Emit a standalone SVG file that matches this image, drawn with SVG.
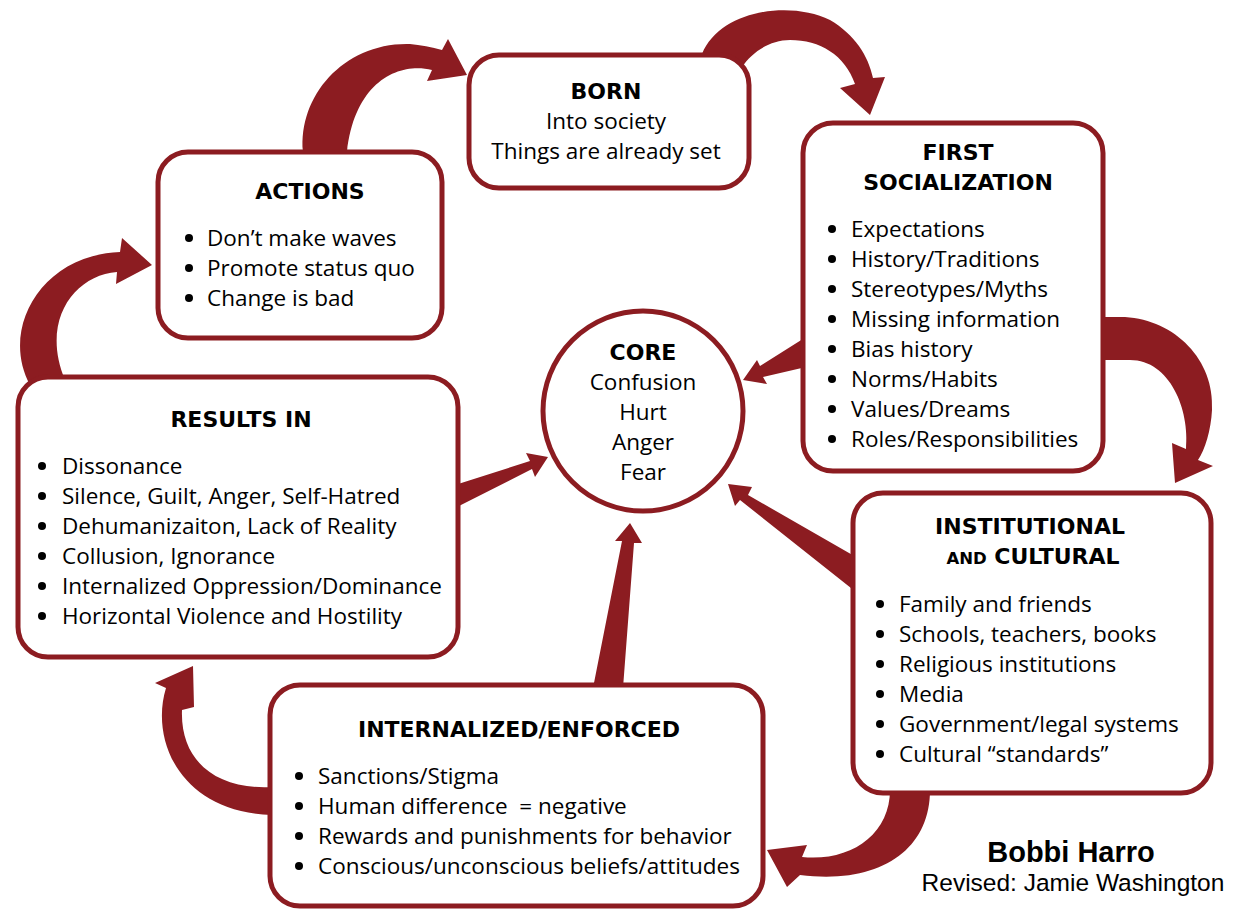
<svg xmlns="http://www.w3.org/2000/svg" width="1234" height="914" viewBox="0 0 1234 914">
<style>
.box{fill:#fff;stroke:#8C1C21;stroke-width:5}
.arr{fill:#8C1C21;stroke:none}
text{font-family:"Open Sans","Noto Sans","Liberation Sans",sans-serif;font-size:22.5px;fill:#000}
.t{font-family:"DejaVu Sans","Open Sans",sans-serif;font-weight:bold;text-anchor:middle;font-size:22px}
.c{text-anchor:middle}
.sm{font-size:16.5px}
.b{fill:#000}
.sig1{font-family:"Liberation Sans",Arial,sans-serif;font-weight:bold;font-size:29px;text-anchor:middle}
.sig2{font-family:"Liberation Sans",Arial,sans-serif;font-size:24.5px;text-anchor:middle}
</style>
<rect width="1234" height="914" fill="#fff"/>
<g id="connectors">
<path class="arr" d="M303,152 C298,95 345,42 410,44 C420,45 432,47 442,50 L448,39 L467,75 L427,81 L432,70 C400,62 355,80 347,152 Z"/>
<path class="arr" d="M702,54 C720,10 790,0 830,20 C855,35 868,55 873,78 L885,77 L870,115 L840,88 L855,84 C845,55 820,40 790,40 C770,40 752,52 742,67 Z"/>
<path class="arr" d="M1100,317 L1125,317 C1175,320 1215,360 1212,410 C1211,430 1205,450 1198,460 L1213,466 L1175,483 L1172,443 L1186,449 C1190,410 1170,360 1130,360 L1100,360 Z"/>
<path class="arr" d="M930,790 C930,850 880,885 800,875 L787,887 L767,850 L807,845 L802,857 C850,862 890,835 890,790 Z"/>
<path class="arr" d="M272,787 C215,790 180,760 182,710 L194,707 L193,666 L155,683 L166,688 C150,740 180,812 272,815 Z"/>
<path class="arr" d="M30,385 C0,330 40,255 120,252 L122,238 L152,265 L116,284 L117,272 C75,275 40,320 65,380 Z"/>
<path class="arr" d="M455,485 L530,461 L526,453 L548,457 L535,477 L532,469 L455,508 Z"/>
<path class="arr" d="M806,337 L760,366 L757,360 L743,380 L767,384 L763,377 L806,367 Z"/>
<path class="arr" d="M856,557 L748,495 L752,487 L728,484 L735,506 L740,500 L856,592 Z"/>
<path class="arr" d="M593,688 L622,541 L615,541 L630,523 L642,543 L634,543 L623,688 Z"/>
</g>
<g id="born">
<rect class="box" x="469" y="55" width="280" height="133" rx="30"/>
<text class="t" x="606" y="99">BORN</text>
<text class="c" x="606" y="129">Into society</text>
<text class="c" x="606" y="159">Things are already set</text>
</g>
<g id="first-socialization">
<rect class="box" x="803" y="123" width="300" height="348" rx="30"/>
<text class="t" x="958" y="160">FIRST</text>
<text class="t" x="958" y="190">SOCIALIZATION</text>
<circle class="b" cx="832" cy="229" r="4"/><text x="851" y="237">Expectations</text>
<circle class="b" cx="832" cy="259" r="4"/><text x="851" y="267">History/Traditions</text>
<circle class="b" cx="832" cy="289" r="4"/><text x="851" y="297">Stereotypes/Myths</text>
<circle class="b" cx="832" cy="319" r="4"/><text x="851" y="327">Missing information</text>
<circle class="b" cx="832" cy="349" r="4"/><text x="851" y="357">Bias history</text>
<circle class="b" cx="832" cy="379" r="4"/><text x="851" y="387">Norms/Habits</text>
<circle class="b" cx="832" cy="409" r="4"/><text x="851" y="417">Values/Dreams</text>
<circle class="b" cx="832" cy="439" r="4"/><text x="851" y="447">Roles/Responsibilities</text>
</g>
<g id="institutional">
<rect class="box" x="853" y="493" width="358" height="300" rx="30"/>
<text class="t" x="1030" y="534">INSTITUTIONAL</text>
<text class="t" x="1033" y="564"><tspan class="sm">AND</tspan> CULTURAL</text>
<circle class="b" cx="880" cy="604" r="4"/><text x="899" y="612">Family and friends</text>
<circle class="b" cx="880" cy="634" r="4"/><text x="899" y="642">Schools, teachers, books</text>
<circle class="b" cx="880" cy="664" r="4"/><text x="899" y="672">Religious institutions</text>
<circle class="b" cx="880" cy="694" r="4"/><text x="899" y="702">Media</text>
<circle class="b" cx="880" cy="724" r="4"/><text x="899" y="732">Government/legal systems</text>
<circle class="b" cx="880" cy="754" r="4"/><text x="899" y="762">Cultural “standards”</text>
</g>
<g id="internalized">
<rect class="box" x="270" y="685" width="493" height="221" rx="30"/>
<text class="t" x="519" y="737">INTERNALIZED/ENFORCED</text>
<circle class="b" cx="299" cy="776" r="4"/><text x="318" y="784">Sanctions/Stigma</text>
<circle class="b" cx="299" cy="806" r="4"/><text x="318" y="814" xml:space="preserve">Human difference  = negative</text>
<circle class="b" cx="299" cy="836" r="4"/><text x="318" y="844">Rewards and punishments for behavior</text>
<circle class="b" cx="299" cy="866" r="4"/><text x="318" y="874">Conscious/unconscious beliefs/attitudes</text>
</g>
<g id="results">
<rect class="box" x="18" y="377" width="440" height="280" rx="30"/>
<text class="t" x="241" y="427">RESULTS IN</text>
<circle class="b" cx="42" cy="466" r="4"/><text x="62" y="474">Dissonance</text>
<circle class="b" cx="42" cy="496" r="4"/><text x="62" y="504">Silence, Guilt, Anger, Self-Hatred</text>
<circle class="b" cx="42" cy="526" r="4"/><text x="62" y="534">Dehumanizaiton, Lack of Reality</text>
<circle class="b" cx="42" cy="556" r="4"/><text x="62" y="564">Collusion, Ignorance</text>
<circle class="b" cx="42" cy="586" r="4"/><text x="62" y="594">Internalized Oppression/Dominance</text>
<circle class="b" cx="42" cy="616" r="4"/><text x="62" y="624">Horizontal Violence and Hostility</text>
</g>
<g id="actions">
<rect class="box" x="158" y="152" width="284" height="186" rx="30"/>
<text class="t" x="310" y="199">ACTIONS</text>
<circle class="b" cx="189" cy="238" r="4"/><text x="207" y="246">Don’t make waves</text>
<circle class="b" cx="189" cy="268" r="4"/><text x="207" y="276">Promote status quo</text>
<circle class="b" cx="189" cy="298" r="4"/><text x="207" y="306">Change is bad</text>
</g>
<g id="core">
<circle class="box" cx="643" cy="411" r="100"/>
<text class="t" x="643" y="360">CORE</text>
<text class="c" x="643" y="390">Confusion</text>
<text class="c" x="643" y="420">Hurt</text>
<text class="c" x="643" y="450">Anger</text>
<text class="c" x="643" y="480">Fear</text>
</g>
<g id="credits">
<text class="sig1" x="1071" y="862">Bobbi Harro</text>
<text class="sig2" x="1073" y="891">Revised: Jamie Washington</text>
</g>
</svg>
